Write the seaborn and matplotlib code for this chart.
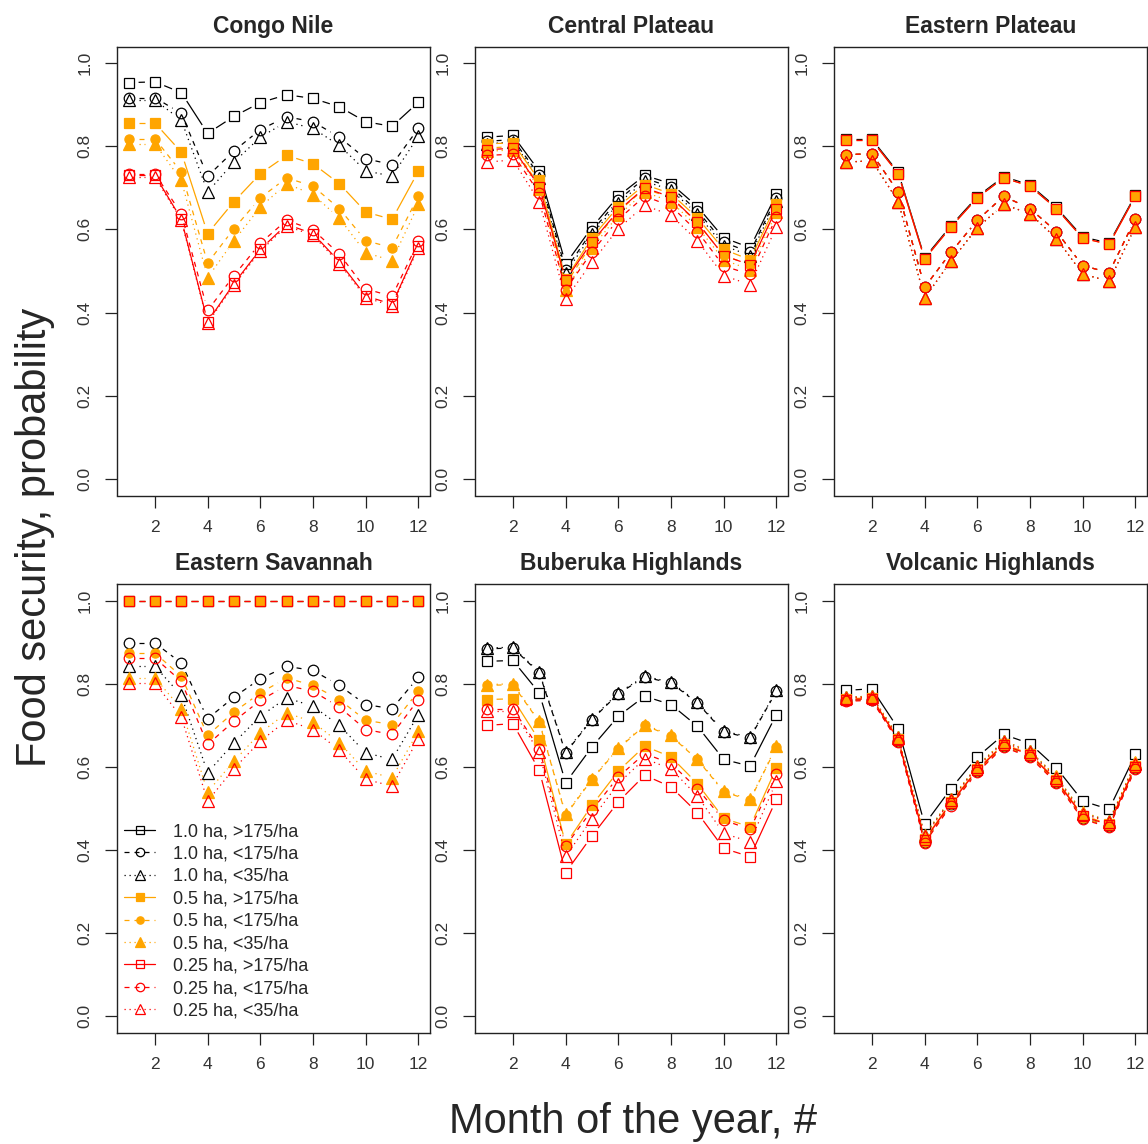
import matplotlib
matplotlib.use("Agg")
import matplotlib.pyplot as plt
from matplotlib.lines import Line2D
from matplotlib.collections import LineCollection
import numpy as np
import seaborn as sns

# ---------------- data ----------------
MONTHS = [1, 2, 3, 4, 5, 6, 7, 8, 9, 10, 11, 12]
X_TICKS = [2, 4, 6, 8, 10, 12]
Y_TICKS = [0.0, 0.2, 0.4, 0.6, 0.8, 1.0]
REGIONS = ["Congo Nile", "Central Plateau", "Eastern Plateau",
           "Eastern Savannah", "Buberuka Highlands", "Volcanic Highlands"]
SERIES_LABELS = ["1.0 ha, >175/ha", "1.0 ha, <175/ha", "1.0 ha, <35/ha",
                 "0.5 ha, >175/ha", "0.5 ha, <175/ha", "0.5 ha, <35/ha",
                 "0.25 ha, >175/ha", "0.25 ha, <175/ha", "0.25 ha, <35/ha"]

# each region: 9 series in SERIES_LABELS order, months 1..12
CONGO_NILE = [
    [0.953, 0.955, 0.929, 0.831, 0.872, 0.905, 0.924, 0.915, 0.895, 0.859, 0.848, 0.906],
    [0.917, 0.917, 0.879, 0.728, 0.789, 0.840, 0.871, 0.859, 0.822, 0.770, 0.756, 0.843],
    [0.911, 0.911, 0.863, 0.690, 0.762, 0.822, 0.859, 0.843, 0.802, 0.741, 0.728, 0.824],
    [0.856, 0.856, 0.786, 0.590, 0.667, 0.734, 0.778, 0.758, 0.710, 0.642, 0.624, 0.740],
    [0.818, 0.818, 0.738, 0.519, 0.602, 0.676, 0.724, 0.704, 0.650, 0.573, 0.556, 0.680],
    [0.806, 0.806, 0.718, 0.484, 0.573, 0.654, 0.710, 0.684, 0.627, 0.544, 0.525, 0.660],
    [0.730, 0.730, 0.625, 0.378, 0.470, 0.552, 0.612, 0.590, 0.522, 0.440, 0.420, 0.560],
    [0.734, 0.734, 0.638, 0.405, 0.489, 0.567, 0.622, 0.599, 0.541, 0.457, 0.439, 0.571],
    [0.726, 0.726, 0.622, 0.375, 0.466, 0.548, 0.608, 0.586, 0.518, 0.436, 0.416, 0.556],
]
CENTRAL_PLATEAU = [
    [0.822, 0.826, 0.740, 0.517, 0.605, 0.680, 0.730, 0.710, 0.655, 0.580, 0.556, 0.685],
    [0.812, 0.816, 0.731, 0.503, 0.596, 0.671, 0.723, 0.702, 0.645, 0.569, 0.545, 0.676],
    [0.806, 0.810, 0.724, 0.495, 0.588, 0.663, 0.716, 0.695, 0.637, 0.561, 0.537, 0.669],
    [0.806, 0.808, 0.718, 0.480, 0.580, 0.655, 0.708, 0.686, 0.628, 0.552, 0.527, 0.660],
    [0.796, 0.799, 0.706, 0.468, 0.566, 0.643, 0.698, 0.676, 0.616, 0.538, 0.514, 0.650],
    [0.788, 0.791, 0.698, 0.455, 0.556, 0.634, 0.690, 0.667, 0.606, 0.527, 0.503, 0.641],
    [0.792, 0.795, 0.703, 0.478, 0.570, 0.645, 0.700, 0.678, 0.617, 0.537, 0.515, 0.650],
    [0.778, 0.781, 0.687, 0.455, 0.546, 0.624, 0.680, 0.656, 0.595, 0.512, 0.492, 0.630],
    [0.762, 0.767, 0.667, 0.433, 0.521, 0.602, 0.658, 0.634, 0.573, 0.489, 0.467, 0.606],
]
EASTERN_PLATEAU = [
    [0.817, 0.817, 0.737, 0.532, 0.609, 0.679, 0.727, 0.707, 0.653, 0.582, 0.567, 0.683],
    [0.780, 0.782, 0.690, 0.461, 0.545, 0.622, 0.680, 0.650, 0.595, 0.513, 0.496, 0.626],
    [0.762, 0.765, 0.667, 0.435, 0.524, 0.604, 0.660, 0.638, 0.578, 0.493, 0.475, 0.607],
    [0.814, 0.814, 0.734, 0.529, 0.606, 0.676, 0.724, 0.704, 0.650, 0.579, 0.564, 0.680],
    [0.780, 0.782, 0.690, 0.461, 0.545, 0.622, 0.680, 0.650, 0.595, 0.513, 0.496, 0.626],
    [0.762, 0.765, 0.667, 0.435, 0.524, 0.604, 0.660, 0.638, 0.578, 0.493, 0.475, 0.607],
    [0.814, 0.814, 0.734, 0.529, 0.606, 0.676, 0.724, 0.704, 0.650, 0.579, 0.564, 0.680],
    [0.780, 0.782, 0.690, 0.461, 0.545, 0.622, 0.680, 0.650, 0.595, 0.513, 0.496, 0.626],
    [0.762, 0.765, 0.667, 0.435, 0.524, 0.604, 0.660, 0.638, 0.578, 0.493, 0.475, 0.607],
]
EASTERN_SAVANNAH = [
    [1.000, 1.000, 1.000, 1.000, 1.000, 1.000, 1.000, 1.000, 1.000, 1.000, 1.000, 1.000],
    [0.898, 0.898, 0.850, 0.716, 0.768, 0.812, 0.842, 0.832, 0.796, 0.750, 0.740, 0.816],
    [0.842, 0.842, 0.772, 0.586, 0.658, 0.722, 0.766, 0.746, 0.700, 0.634, 0.618, 0.726],
    [1.000, 1.000, 1.000, 1.000, 1.000, 1.000, 1.000, 1.000, 1.000, 1.000, 1.000, 1.000],
    [0.874, 0.874, 0.818, 0.676, 0.732, 0.778, 0.814, 0.796, 0.762, 0.712, 0.702, 0.782],
    [0.814, 0.814, 0.740, 0.540, 0.614, 0.682, 0.730, 0.708, 0.658, 0.590, 0.574, 0.686],
    [1.000, 1.000, 1.000, 1.000, 1.000, 1.000, 1.000, 1.000, 1.000, 1.000, 1.000, 1.000],
    [0.862, 0.862, 0.806, 0.654, 0.710, 0.760, 0.796, 0.782, 0.744, 0.690, 0.678, 0.762],
    [0.802, 0.802, 0.720, 0.518, 0.596, 0.662, 0.712, 0.690, 0.640, 0.570, 0.554, 0.668],
]
BUBERUKA_HIGHLANDS = [
    [0.854, 0.856, 0.778, 0.562, 0.648, 0.722, 0.770, 0.750, 0.698, 0.618, 0.602, 0.726],
    [0.884, 0.886, 0.826, 0.634, 0.714, 0.776, 0.816, 0.802, 0.754, 0.684, 0.670, 0.782],
    [0.886, 0.888, 0.828, 0.636, 0.716, 0.778, 0.818, 0.804, 0.756, 0.686, 0.672, 0.784],
    [0.762, 0.764, 0.664, 0.414, 0.508, 0.590, 0.650, 0.624, 0.560, 0.476, 0.456, 0.598],
    [0.796, 0.798, 0.708, 0.484, 0.570, 0.644, 0.700, 0.674, 0.618, 0.540, 0.520, 0.648],
    [0.798, 0.800, 0.710, 0.486, 0.572, 0.646, 0.702, 0.676, 0.620, 0.542, 0.522, 0.650],
    [0.700, 0.704, 0.592, 0.346, 0.434, 0.516, 0.580, 0.552, 0.490, 0.404, 0.384, 0.522],
    [0.740, 0.740, 0.644, 0.410, 0.496, 0.576, 0.632, 0.608, 0.548, 0.472, 0.450, 0.582],
    [0.735, 0.735, 0.635, 0.385, 0.475, 0.560, 0.620, 0.595, 0.530, 0.440, 0.420, 0.565],
]
VOLCANIC_HIGHLANDS = [
    [0.784, 0.788, 0.692, 0.462, 0.548, 0.624, 0.678, 0.656, 0.598, 0.518, 0.498, 0.630],
    [0.760, 0.762, 0.662, 0.420, 0.510, 0.590, 0.650, 0.626, 0.564, 0.477, 0.458, 0.598],
    [0.768, 0.770, 0.672, 0.436, 0.522, 0.602, 0.662, 0.638, 0.576, 0.490, 0.470, 0.610],
    [0.764, 0.766, 0.667, 0.426, 0.515, 0.595, 0.655, 0.631, 0.569, 0.483, 0.463, 0.603],
    [0.760, 0.762, 0.662, 0.420, 0.510, 0.590, 0.650, 0.626, 0.564, 0.477, 0.458, 0.598],
    [0.768, 0.770, 0.673, 0.437, 0.523, 0.603, 0.662, 0.639, 0.577, 0.491, 0.471, 0.611],
    [0.762, 0.764, 0.665, 0.424, 0.513, 0.593, 0.653, 0.629, 0.567, 0.481, 0.461, 0.601],
    [0.758, 0.760, 0.660, 0.417, 0.507, 0.587, 0.648, 0.623, 0.561, 0.474, 0.455, 0.595],
    [0.766, 0.768, 0.670, 0.433, 0.520, 0.600, 0.659, 0.635, 0.573, 0.487, 0.468, 0.607],
]
REGION_DATA = [CONGO_NILE, CENTRAL_PLATEAU, EASTERN_PLATEAU,
               EASTERN_SAVANNAH, BUBERUKA_HIGHLANDS, VOLCANIC_HIGHLANDS]

# ---------------- styles ----------------
BLACK, ORANGE, RED = "#000000", "#FFA500", "#FF0000"
DASHED = (0, (4, 4))
DOTTED = (0, (1, 3))
STYLES = [
    dict(color=BLACK, marker="s", mfc="none", ls="-", ms=7.4),
    dict(color=BLACK, marker="o", mfc="none", ls=DASHED, ms=7.6),
    dict(color=BLACK, marker="^", mfc="none", ls=DOTTED, ms=8.4),
    dict(color=ORANGE, marker="s", mfc=ORANGE, ls="-", ms=7.4),
    dict(color=ORANGE, marker="o", mfc=ORANGE, ls=DASHED, ms=6.6),
    dict(color=ORANGE, marker="^", mfc=ORANGE, ls=DOTTED, ms=8.4),
    dict(color=RED, marker="s", mfc="none", ls="-", ms=7.4),
    dict(color=RED, marker="o", mfc="none", ls=DASHED, ms=7.6),
    dict(color=RED, marker="^", mfc="none", ls=DOTTED, ms=8.4),
]
GAP_PX = 10.0  # R type="b": lines stop short of the points

sns.set_theme(style="ticks")
plt.rcParams["font.family"] = ["Liberation Sans", "DejaVu Sans"]

W, H = 1148, 1144
fig = plt.figure(figsize=(W / 100, H / 100), dpi=100)

col_left = [117, 475, 834]
col_w = 313
row_top = [46.5, 584]
row_h = 449

axes = []
for r in range(2):
    for c in range(3):
        ax = fig.add_axes([col_left[c] / W, 1 - (row_top[r] + row_h) / H,
                           col_w / W, row_h / H])
        ax.set_xlim(0.56, 12.44)
        ax.set_ylim(-0.04, 1.04)
        axes.append(ax)


def gapped_segments(ax, xs, ys, gap):
    """Segments between consecutive points, shortened by `gap` pixels at each end."""
    pts = ax.transData.transform(np.column_stack([xs, ys]))
    inv = ax.transData.inverted()
    segs = []
    for p0, p1 in zip(pts[:-1], pts[1:]):
        d = p1 - p0
        length = float(np.hypot(d[0], d[1]))
        if length <= 2 * gap:
            continue
        u = d / length
        segs.append(inv.transform(np.array([p0 + u * gap, p1 - u * gap])))
    return segs


for ax, region, data in zip(axes, REGIONS, REGION_DATA):
    for vals, st in zip(data, STYLES):
        segs = gapped_segments(ax, MONTHS, vals, GAP_PX)
        if segs:
            ax.add_collection(LineCollection(segs, colors=[st["color"]],
                                             linewidths=0.9,
                                             linestyles=[st["ls"]]))
        sns.lineplot(x=MONTHS, y=vals, ax=ax, color=st["color"],
                     marker=st["marker"], markersize=st["ms"],
                     markerfacecolor=st["mfc"], markeredgecolor=st["color"],
                     markeredgewidth=0.9, linestyle="None", linewidth=0,
                     legend=False, errorbar=None)
    ax.set_xlim(0.56, 12.44)
    ax.set_ylim(-0.04, 1.04)
    ax.set_xticks(X_TICKS)
    ax.set_xticklabels([str(t) for t in X_TICKS])
    ax.set_yticks(Y_TICKS)
    ax.set_yticklabels([f"{t:.1f}" for t in Y_TICKS], rotation=90, va="center")
    ax.tick_params(direction="out", length=8.5, width=0.9, pad=9,
                   labelsize=12.5, color="#222222", labelcolor="#333333")
    for sp in ax.spines.values():
        sp.set_visible(True)
        sp.set_linewidth(1.0)
        sp.set_color("#222222")
    ax.set_xlabel("")
    ax.set_ylabel("")
    ax.set_title(region, fontsize=16.5, fontweight="bold", pad=10)

handles = [Line2D([0], [0], color=st["color"], marker=st["marker"],
                  markersize=st["ms"] * 0.8, markerfacecolor=st["mfc"],
                  markeredgecolor=st["color"], markeredgewidth=0.9,
                  linestyle=st["ls"], linewidth=0.9) for st in STYLES]
axes[3].legend(handles, SERIES_LABELS, loc="lower left",
               bbox_to_anchor=(0.0, 0.014), frameon=False, fontsize=13,
               handlelength=1.7, handletextpad=1.0, labelspacing=0.30,
               borderpad=0.3, borderaxespad=0.1, numpoints=1)

fig.text(35 / W, 1 - 537 / H, "Food security, probability", rotation=90,
         ha="center", va="center", fontsize=30)
fig.text(633 / W, 1 - 1122 / H, "Month of the year, #",
         ha="center", va="center", fontsize=30)

fig.savefig("out.png", dpi=100)
